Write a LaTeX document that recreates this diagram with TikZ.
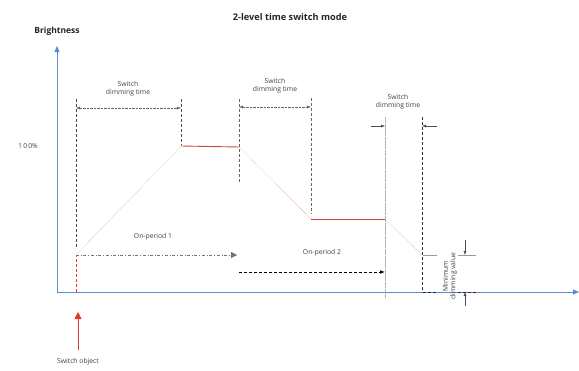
\documentclass[tikz,border=0pt]{standalone}
\usepackage{fontspec}
\setmainfont{Open Sans}
\usetikzlibrary{arrows.meta}
\definecolor{axisblue}{RGB}{90,140,205}
\definecolor{lampred}{RGB}{225,55,45}
\definecolor{levelred}{RGB}{205,70,60}

\begin{document}
\begin{tikzpicture}[x=1pt, y=-1pt, every node/.style={font=\fontsize{6.8}{7.6}\selectfont, text=black!75}]
                \useasboundingbox (0,0) rectangle (579,370);
                \pgfmathsetmacro{\tOn}{76}   % switch object
                \pgfmathsetmacro{\tUp}{181}  % end of first ramp
                \pgfmathsetmacro{\tDn}{239}  % start of second ramp
                \pgfmathsetmacro{\tLo}{311}  % end of second ramp
                \pgfmathsetmacro{\tOff}{385} % start of last ramp
                \pgfmathsetmacro{\tEnd}{422} % end of last ramp
                \pgfmathsetmacro{\yMin}{255} % minimum dimming level
                \pgfmathsetmacro{\yAx}{292}  % time axis

                % Title and axes
                \node[font=\bfseries\fontsize{9.2}{10}\selectfont, text=black!85] (title) at (290,17) {2-level time switch mode};
                \node[font=\bfseries\fontsize{8.5}{9}\selectfont, text=black!85] (ylabel) at (57,31) {Brightness};
                \draw[axisblue, thin, -{Triangle[width=5pt,length=6pt]}] (57,\yAx) -- (57,46);
                \draw[axisblue, thin, -{Triangle[width=5pt,length=6pt]}] (57,\yAx) -- (579,\yAx);
                \node (full) at (28,146) {1\,0\,0\%};

                % Guide lines
                \draw[black!70, densely dashed] (\tOn,99) -- (\tOn,248);
                \draw[black!70, densely dashed] (\tUp,99) -- (\tUp,145);
                \draw[black!60, densely dashed] (\tDn,99) -- (\tDn,184);
                \draw[black!60, densely dashed] (\tLo,98) -- (\tLo,214);
                \draw[black!30, line width=1pt, dash pattern=on 6pt off 0.6pt] (\tOff,117) -- (\tOff,298);
                \draw[black!80, densely dashed] (\tEnd,117) -- (\tEnd,\yAx);

                % Switch dimming times
                \draw[black!60, densely dotted, {Latex[length=4pt]}-{Latex[length=4pt]}] (\tOn,108) -- (\tUp,108);
                \node[align=center] (dim1) at (128,89) {Switch\\dimming time};
                \draw[black!60, densely dotted, {Latex[length=4pt]}-{Latex[length=4pt]}] (\tDn,107) -- (\tLo,107);
                \node[align=center] (dim2) at (275,86) {Switch\\dimming time};
                \draw[black!70, -{Latex[length=4pt]}] (371,126) -- (\tOff,126);
                \draw[black!70, -{Latex[length=4pt]}] (437,126) -- (\tEnd,126);
                \node[align=center] (dim3) at (398,102) {Switch\\dimming time};

                % Brightness curve
                \draw[lampred, densely dashed, thin] (\tOn,\yAx) -- (\tOn,\yMin);
                \draw[lampred!70, densely dotted] (\tOn,\yMin) -- (\tUp,146);
                \draw[levelred, line width=0.9pt] (\tUp,146) -- (\tDn,147);
                \draw[lampred!70, densely dotted] (\tDn,147) -- (\tLo,219);
                \draw[levelred, line width=0.9pt] (\tLo,219.5) -- (\tOff,219.5);
                \draw[lampred!70, densely dotted] (\tOff,219) -- (\tEnd,\yMin);

                % On-periods
                \draw[black!55, dash dot, -{Triangle[width=6pt,length=6pt]}] (\tOn,\yMin) -- (237,\yMin);
                \node (on1) at (153,237) {On-period 1};
                \draw[black, thick, densely dashed, -{Latex[length=5pt]}] (\tDn,272) -- (\tOff,272);
                \node (on2) at (322,253) {On-period 2};

                % Minimum dimming value
                \draw[black!40] (423,\yMin) -- (437,\yMin);
                \draw[black!85, densely dashed] (423,\yAx) -- (437,\yAx);
                \draw[black!40] (458,\yMin) -- (476,\yMin);
                \draw[black!85, densely dashed] (458,\yAx) -- (476,\yAx);
                \draw[black!70, -{Latex[length=4pt]}] (465,240) -- (465,\yMin);
                \draw[black!70, -{Latex[length=4pt]}] (465,306) -- (465,\yAx);
                \node[rotate=90, align=center] (minval) at (450,276) {Minimum\\dimming value};

                % Switch object
                \draw[lampred, -{Triangle[width=7pt,length=7pt]}] (78,350) -- (78,312);
                \node (obj) at (78,362) {Switch object};
            \end{tikzpicture}
\end{document}
